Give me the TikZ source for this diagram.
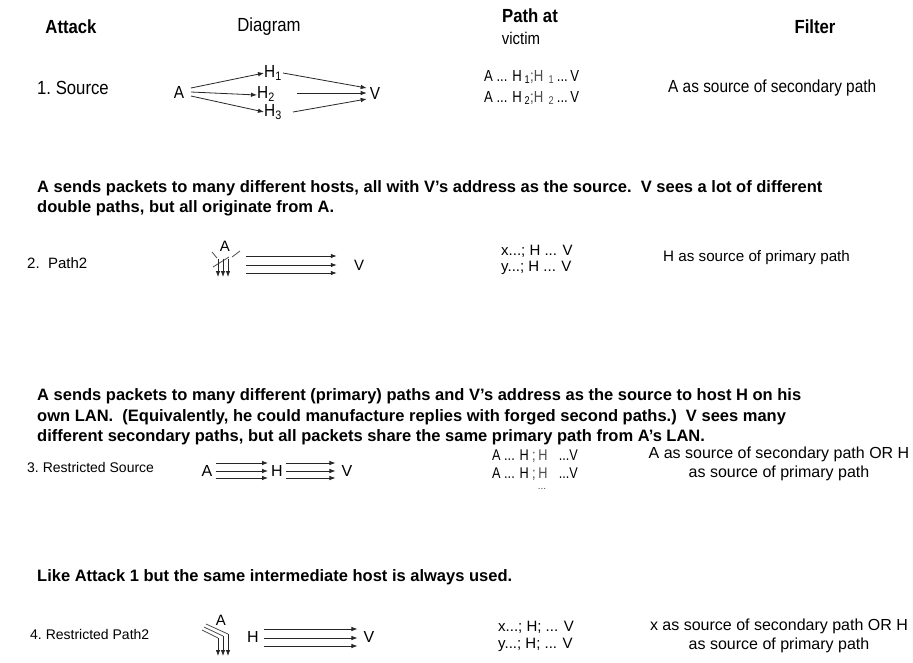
\documentclass[tikz,border=0pt]{standalone}
\usepackage{fontspec}
\setmainfont{Liberation Sans}
\newfontfamily\narrowfont[FakeStretch=0.82]{Liberation Sans}
\newfontfamily\semifont[FakeStretch=0.88]{Liberation Sans}
\usetikzlibrary{arrows.meta}
\begin{document}
\begin{tikzpicture}[x=1pt,y=-1pt,
  every node/.style={inner sep=0pt,font=\fontsize{14}{16}\selectfont},
  hdr/.style={font=\semifont\bfseries\fontsize{19}{21}\selectfont},
  hdrn/.style={font=\semifont\fontsize{19}{21}\selectfont},
  para/.style={anchor=west,font=\bfseries\fontsize{16.5}{18}\selectfont},
  lbl/.style={anchor=west},
  pth/.style={anchor=west,font=\fontsize{15}{17}\selectfont},
  npth/.style={anchor=west,font=\narrowfont\fontsize{15.5}{17}\selectfont},
  big/.style={font=\semifont\fontsize{17.5}{19}\selectfont},
  filt/.style={align=center,font=\fontsize{16}{18}\selectfont},
  arr/.style={draw=black!85,line width=0.8pt,-{Latex[length=6pt,width=4.5pt]}},
  ln/.style={draw=black!70,line width=0.8pt}]
\useasboundingbox (0,0) rectangle (913,662);
\fill[white] (0,0) rectangle (913,662);

% headers
\node[hdr] (hAttack) at (71,27) {Attack};
\node[hdrn] (hDiagram) at (269,27) {Diagram};
\node[hdr] (hPath) at (530,16) {Path at};
\node[font=\semifont\fontsize{17}{19}\selectfont] (hVictim) at (521,38) {victim};
\node[hdr] (hFilter) at (815,27) {Filter};

% row 1
\node[lbl,font=\semifont\fontsize{19}{21}\selectfont] (r1) at (37,88) {1.\ Source};
\node[big] (A1) at (179,92) {A};
\node[big] (H1) at (273,73) {H\textsubscript{1}};
\node[big] (H2) at (266,94) {H\textsubscript{2}};
\node[big] (H3) at (273,112) {H\textsubscript{3}};
\node[big] (V1) at (375,93) {V};
\draw[arr] ([shift={(12,-4)}]A1.center) -- (H1.west);
\draw[arr] ([shift={(12,0)}]A1.center) -- ([yshift=-1]H2.west);
\draw[arr] ([shift={(12,4)}]A1.center) -- (H3.west);
\draw[arr] ([xshift=1]H1.east) -- ([shift={(-3,-5)}]V1.west);
\draw[arr] ([shift={(22,-1)}]H2.east) -- ([xshift=-3]V1.west);
\draw[arr] ([xshift=11]H3.east) -- ([shift={(-3,6)}]V1.west);
\node[npth,font=\narrowfont\fontsize{16}{18}\selectfont] (p1a) at (484,77) {A ... H\,\textsubscript{1}{\color{black!70};H\,\,\textsubscript{1}}\,...\,V};
\node[npth,font=\narrowfont\fontsize{16}{18}\selectfont] (p1b) at (484,98) {A ... H\,\textsubscript{2}{\color{black!70};H\,\,\textsubscript{2}}\,...\,V};
\node[lbl,big] (f1) at (668,88) {A as source of secondary path};

% paragraph 1
\node[para] (t1a) at (37,188) {A sends packets to many different hosts, all with V's address as the source.\ \ V sees a lot of different};
\node[para] (t1b) at (37,208) {double paths, but all originate from A.};

% row 2
\node[lbl,font=\fontsize{15}{17}\selectfont] (r2) at (27,263) {2.\ \ Path2};
\node[font=\fontsize{15}{17}\selectfont] (A2) at (225,246) {A};
\coordinate (a2l) at (212,252);
\coordinate (a2r) at (240,251);
\draw[ln] (a2l) -- (217,258);
\draw[ln] (232,257) -- (a2r);
\draw[ln] (213,267) -- (229,257);
\foreach \x in {218,223,228} {
  \coordinate (d\x) at (\x,259);
  \draw[arr] (d\x) -- ++(0,18);
}
\node[font=\fontsize{15}{17}\selectfont] (V2) at (359,265) {V};
\foreach \y/\k in {256/a,265/b,273/c} {
  \coordinate (s2\k) at (246,\y);
  \draw[arr] (s2\k) -- ([xshift=-17]V2.west |- s2\k);
}
\node[pth] (p2a) at (501,251) {x...; H ... V};
\node[pth] (p2b) at (501,268) {y...; H ... V};
\node[lbl,font=\fontsize{15.2}{17}\selectfont] (f2) at (663,258) {H as source of primary path};

% paragraph 2
\node[para] (t2a) at (37,396) {A sends packets to many different (primary) paths and V's address as the source to host H on his};
\node[para] (t2b) at (37,417) {own LAN.\ \ (Equivalently, he could manufacture replies with forged second paths.)\ \ V sees many};
\node[para] (t2c) at (37,437) {different secondary paths, but all packets share the same primary path from A's LAN.};

% row 3
\node[lbl] (r3) at (27,467) {3.\ Restricted Source};
\node[font=\fontsize{16}{18}\selectfont] (A3) at (207,471) {A};
\node[font=\fontsize{16}{18}\selectfont] (H3b) at (277,471) {H};
\node[font=\fontsize{16}{18}\selectfont] (V3) at (347,471) {V};
\foreach \y in {-8,0,7} {
  \draw[arr] ([shift={(3,\y)}]A3.east) -- ([shift={(-3,\y)}]H3b.west);
  \draw[arr] ([shift={(3,\y)}]H3b.east) -- ([shift={(-6,\y)}]V3.west);
}
\node[npth] (p3a) at (492,456) {A ... H {\color{black!70};\,H}\,\,\, ...V};
\node[npth] (p3b) at (492,474) {A ... H {\color{black!70};\,H}\,\,\, ...V};
\node[font=\fontsize{10}{12}\selectfont,text=black!70] (p3c) at (542,489) {...};
\node[filt] (f3) at (779,464) {A as source of secondary path OR H\\[1pt]as source of primary path};

% paragraph 3
\node[para] (t3) at (37,577) {Like Attack 1 but the same intermediate host is always used.};

% row 4
\node[lbl] (r4) at (30,634) {4.\ Restricted Path2};
\node[font=\fontsize{15}{17}\selectfont] (A4) at (221,620) {A};
\foreach \sx/\sy/\bx/\by in {202/630/218/638, 204/627/223/636, 206/624/228/634} {
  \coordinate (c\bx) at (\sx,\sy);
  \draw[ln] (c\bx) -- (\bx,\by);
  \draw[arr] (\bx,\by) -- (\bx,656);
}
\node[font=\fontsize{16}{18}\selectfont] (H4) at (253,637) {H};
\node[font=\fontsize{16}{18}\selectfont] (V4) at (369,637) {V};
\foreach \y in {-8,1,9} {
  \draw[arr] ([shift={(5,\y)}]H4.east) -- ([shift={(-6,\y)}]V4.west);
}
\node[pth] (p4a) at (498,627) {x...; H; ... V};
\node[pth] (p4b) at (498,645) {y...; H; ... V};
\node[filt] (f4) at (779,636) {x as source of secondary path OR H\\[1pt]as source of primary path};
\end{tikzpicture}
\end{document}
